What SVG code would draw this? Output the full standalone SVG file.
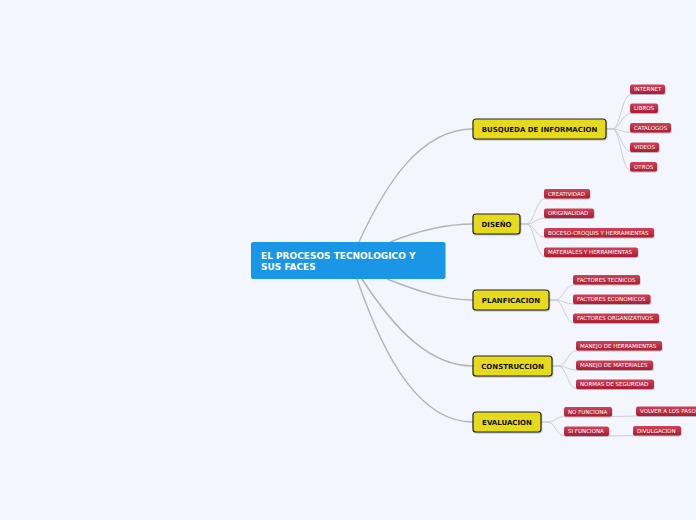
<svg xmlns="http://www.w3.org/2000/svg" width="696" height="520" viewBox="0 0 696 520">
<defs>
<linearGradient id="gRed" x1="0" y1="0" x2="0" y2="1">
<stop offset="0" stop-color="#cf4258"/>
<stop offset="1" stop-color="#a91e33"/>
</linearGradient>
<filter id="sh" x="-10%" y="-20%" width="120%" height="160%">
<feDropShadow dx="0.5" dy="1" stdDeviation="0.6" flood-color="#000" flood-opacity="0.25"/>
</filter>
</defs>
<style>
.main{fill:none;stroke:#b3b3bb;stroke-width:1.4}
.sub{fill:none;stroke:#cdcdd5;stroke-width:1}
.center{fill:#1a96e6}
.ct{font-family:"DejaVu Sans",Verdana,sans-serif;font-weight:bold;font-size:9px;fill:#ffffff}
.yb{fill:#e6da1b;stroke:#262626;stroke-width:1.2}
.yt{font-family:"DejaVu Sans",Verdana,sans-serif;font-weight:bold;font-size:7px;fill:#111111;text-anchor:middle}
.rb{fill:url(#gRed)}
.rt{font-family:"DejaVu Sans",Verdana,sans-serif;font-size:5.5px;fill:#ffffff}
</style>
<rect x="0" y="0" width="696" height="520" fill="#f3f6fe"/>

<g id="connectors">
<path class="main" d="M359,242 C385,185 420,129 473,129"/>
<path class="main" d="M390,242 C420,230 445,224 473,224"/>
<path class="main" d="M387,279 C420,292 445,300 473,300"/>
<path class="main" d="M362,279 C395,330 430,366 473,366"/>
<path class="main" d="M357,279 C385,360 420,422 473,422"/>

<path class="sub" d="M606,129 L612,129 C621,129 621,94 632,94"/>
<path class="sub" d="M606,129 L612,129 C621,129 621,113 632,113"/>
<path class="sub" d="M606,129 L612,129 C621,129 621,132.5 632,132.5"/>
<path class="sub" d="M606,129 L612,129 C621,129 621,152 632,152"/>
<path class="sub" d="M606,129 L612,129 C621,129 621,171.5 632,171.5"/>

<path class="sub" d="M520,224 L526,224 C535,224 535,198.5 546,198.5"/>
<path class="sub" d="M520,224 L526,224 C535,224 535,218 546,218"/>
<path class="sub" d="M520,224 L526,224 C535,224 535,237.5 546,237.5"/>
<path class="sub" d="M520,224 L526,224 C535,224 535,257 546,257"/>

<path class="sub" d="M549,300 L555,300 C564,300 564,284.5 575,284.5"/>
<path class="sub" d="M549,300 L555,300 C564,300 564,304 575,304"/>
<path class="sub" d="M549,300 L555,300 C564,300 564,323 575,323"/>

<path class="sub" d="M552,366 L558,366 C567,366 567,350.5 578,350.5"/>
<path class="sub" d="M552,366 L558,366 C567,366 567,370 578,370"/>
<path class="sub" d="M552,366 L558,366 C567,366 567,389 578,389"/>

<path class="sub" d="M541,422 L547,422 C556,422 555,416.5 566,416.5"/>
<path class="sub" d="M541,422 L547,422 C556,422 555,436 566,436"/>
<path class="sub" d="M612,416.5 L638,416"/>
<path class="sub" d="M609,436 L635,435.5"/>
</g>

<g id="center">
<rect class="center" x="251" y="242" width="194.5" height="37" rx="2"/>
<text class="ct" x="261" y="259">EL PROCESOS TECNOLOGICO Y</text>
<text class="ct" x="261" y="269.5">SUS FACES</text>
</g>

<g id="busqueda">
<rect class="yb" x="473" y="119" width="133" height="20" rx="3" filter="url(#sh)"/>
<text class="yt" x="539.5" y="131.5">BUSQUEDA DE INFORMACION</text>
</g>
<g id="diseno">
<rect class="yb" x="473" y="214" width="47" height="20" rx="3" filter="url(#sh)"/>
<text class="yt" x="496.5" y="226.5">DISEÑO</text>
</g>
<g id="planficacion">
<rect class="yb" x="473" y="290" width="76" height="20" rx="3" filter="url(#sh)"/>
<text class="yt" x="511" y="302.5">PLANFICACION</text>
</g>
<g id="construccion">
<rect class="yb" x="473" y="356" width="79" height="20" rx="3" filter="url(#sh)"/>
<text class="yt" x="512.5" y="368.5">CONSTRUCCION</text>
</g>
<g id="evaluacion">
<rect class="yb" x="473" y="412" width="68" height="20" rx="3" filter="url(#sh)"/>
<text class="yt" x="507" y="424.5">EVALUACION</text>
</g>

<g id="internet"><rect class="rb" x="630" y="84.5" width="35" height="9.5" rx="2" filter="url(#sh)"/><text class="rt" x="634" y="91.4">INTERNET</text></g>
<g id="libros"><rect class="rb" x="630" y="103.5" width="28" height="9.5" rx="2" filter="url(#sh)"/><text class="rt" x="634" y="110.4">LIBROS</text></g>
<g id="catalogos"><rect class="rb" x="630" y="123" width="41" height="9.5" rx="2" filter="url(#sh)"/><text class="rt" x="634" y="129.9">CATALOGOS</text></g>
<g id="videos"><rect class="rb" x="630" y="142.5" width="29" height="9.5" rx="2" filter="url(#sh)"/><text class="rt" x="634" y="149.4">VIDEOS</text></g>
<g id="otros"><rect class="rb" x="630" y="162" width="27" height="9.5" rx="2" filter="url(#sh)"/><text class="rt" x="634" y="168.9">OTROS</text></g>

<g id="creatividad"><rect class="rb" x="544" y="189" width="46" height="9.5" rx="2" filter="url(#sh)"/><text class="rt" x="548" y="195.9">CREATIVIDAD</text></g>
<g id="originalidad"><rect class="rb" x="544" y="208.5" width="50" height="9.5" rx="2" filter="url(#sh)"/><text class="rt" x="548" y="215.4">ORIGINALIDAD</text></g>
<g id="boceso"><rect class="rb" x="544" y="228" width="110" height="9.5" rx="2" filter="url(#sh)"/><text class="rt" x="548" y="234.9">BOCESO-CROQUIS Y HERRAMIENTAS</text></g>
<g id="materiales"><rect class="rb" x="544" y="247.5" width="94" height="9.5" rx="2" filter="url(#sh)"/><text class="rt" x="548" y="254.4">MATERIALES Y HERRAMIENTAS</text></g>

<g id="tecnicos"><rect class="rb" x="573" y="275" width="67" height="9.5" rx="2" filter="url(#sh)"/><text class="rt" x="577" y="281.9">FACTORES TECNICOS</text></g>
<g id="economicos"><rect class="rb" x="573" y="294.5" width="77.5" height="9.5" rx="2" filter="url(#sh)"/><text class="rt" x="577" y="301.4">FACTORES ECONOMICOS</text></g>
<g id="organizativos"><rect class="rb" x="573" y="313.5" width="86" height="9.5" rx="2" filter="url(#sh)"/><text class="rt" x="577" y="320.4">FACTORES ORGANIZATIVOS</text></g>

<g id="herramientas"><rect class="rb" x="576" y="341" width="86" height="9.5" rx="2" filter="url(#sh)"/><text class="rt" x="580" y="347.9">MANEJO DE HERRAMIENTAS</text></g>
<g id="manmateriales"><rect class="rb" x="576" y="360.5" width="77" height="9.5" rx="2" filter="url(#sh)"/><text class="rt" x="580" y="367.4">MANEJO DE MATERIALES</text></g>
<g id="normas"><rect class="rb" x="576" y="379.5" width="78" height="9.5" rx="2" filter="url(#sh)"/><text class="rt" x="580" y="386.4">NORMAS DE SEGURIDAD</text></g>

<g id="nofunciona"><rect class="rb" x="564" y="407" width="48" height="9.5" rx="2" filter="url(#sh)"/><text class="rt" x="568" y="413.9">NO FUNCIONA</text></g>
<g id="sifunciona"><rect class="rb" x="564" y="426.5" width="45" height="9.5" rx="2" filter="url(#sh)"/><text class="rt" x="568" y="433.4">SI FUNCIONA</text></g>
<g id="volver"><rect class="rb" x="636" y="406.5" width="80" height="9.5" rx="2" filter="url(#sh)"/><text class="rt" x="640" y="413.4">VOLVER A LOS PASOS</text></g>
<g id="divulgacion"><rect class="rb" x="633" y="426" width="48" height="9.5" rx="2" filter="url(#sh)"/><text class="rt" x="637" y="432.9">DIVULGACION</text></g>
</svg>
